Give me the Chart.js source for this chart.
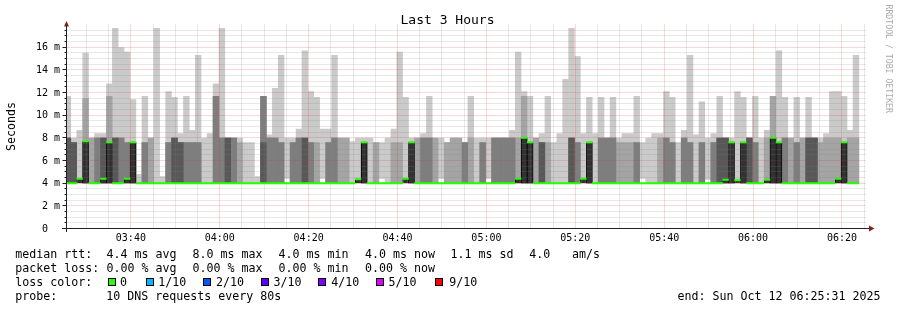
<!DOCTYPE html>
<html>
<head>
<meta charset="utf-8">
<script src="https://cdn.jsdelivr.net/npm/chart.js@4.4.0/dist/chart.umd.min.js"></script>
<style>
html,body{margin:0;padding:0;background:#ffffff;}
canvas{display:block;}
</style>
</head>
<body>
<canvas id="c" width="897" height="310"></canvas>
<script>
// ---------- time axis (minutes after 03:00) ----------
const xMin = 25 + 31 / 60;          // 03:25:31
const xMax = 205 + 31 / 60;         // 06:25:31
const slotStart = 25.15;            // start of the first 80 s probe round
const slotLen = 80 / 60;            // 80 s per round
const xTickValues = [40, 60, 80, 100, 120, 140, 160, 180, 200];
const xTickLabels = ['03:40', '04:00', '04:20', '04:40', '05:00', '05:20', '05:40', '06:00', '06:20'];
const yTickValues = [0, 2, 4, 6, 8, 10, 12, 14, 16];
const yTickLabels = ['0  ', '2 m', '4 m', '6 m', '8 m', '10 m', '12 m', '14 m', '16 m'];

// ---------- sorted pings per round (ms) ----------
const innerLow = 4.0; // pings 2..5 sit on the 4.0 ms floor
const p10 = [11.7,8.0,8.7,15.5,8.0,8.4,8.4,12.8,17.7,16.0,
             15.6,11.4,4.8,11.7,8.0,17.7,4.6,12.1,11.6,8.4,
             11.7,8.7,15.3,8.0,8.4,12.8,17.7,8.0,8.0,8.0,
             7.6,7.6,4.6,11.7,8.3,12.4,15.3,8.0,8.0,8.8,
             15.7,12.1,11.6,8.8,8.8,15.3,8.0,8.0,7.7,8.0,
             8.0,8.0,7.6,7.6,8.0,8.8,15.6,11.6,8.0,8.0,
             8.4,11.7,8.0,8.0,7.6,8.0,8.0,7.6,11.7,8.0,
             8.0,8.0,8.0,8.0,8.0,8.7,15.6,12.1,11.7,8.0,
             8.4,11.7,7.6,8.4,13.2,17.7,15.2,8.4,11.6,8.4,
             11.6,8.0,11.6,8.0,8.4,8.4,11.7,7.6,8.0,8.4,
             8.4,12.1,11.6,7.6,8.7,15.3,8.3,11.2,8.0,8.4,
             11.7,8.0,8.0,12.1,11.6,8.0,11.7,8.0,8.7,11.7,
             15.7,11.6,8.0,11.6,8.0,11.6,8.0,8.0,8.4,12.1,
             12.1,11.7,8.7,15.3];
const p9  = [8.0,7.6,4.0,11.5,8.0,8.0,8.0,11.7,8.0,8.0,
             7.6,7.6,4.0,7.6,8.0,4.0,4.0,7.6,8.0,7.6,
             7.6,7.6,7.6,4.0,4.0,11.7,8.0,8.0,8.0,7.6,
             4.0,4.0,4.0,11.7,8.0,8.0,7.6,4.0,7.6,8.0,
             8.0,7.6,7.6,4.0,7.6,8.0,8.0,8.0,4.0,4.0,
             7.6,4.0,7.6,4.0,4.0,7.6,7.6,4.0,7.6,8.0,
             8.0,8.0,8.0,4.0,7.6,8.0,8.0,7.6,8.0,4.0,
             7.6,4.0,8.0,8.0,8.0,8.0,8.0,11.7,7.6,8.0,
             7.6,7.6,4.0,4.0,4.0,8.0,7.6,4.0,7.6,4.0,
             8.0,8.0,8.0,7.6,7.6,7.6,7.6,4.0,4.0,4.0,
             8.0,8.0,7.6,4.0,8.0,7.6,4.0,7.6,4.0,7.6,
             8.0,8.0,7.6,4.0,7.6,8.0,7.6,4.0,8.0,11.7,
             7.6,8.0,8.0,7.6,8.0,8.0,8.0,7.6,8.0,8.0,
             8.0,7.6,8.0,8.0];
const p8  = [8.0,7.6,4.0,7.7,4.0,8.0,8.0,7.6,8.0,8.0,
             7.6,7.6,4.0,7.6,4.0,4.0,4.0,7.6,8.0,7.6,
             7.6,7.6,7.6,4.0,4.0,11.7,8.0,8.0,8.0,4.0,
             4.0,4.0,4.0,11.7,8.0,8.0,7.6,4.0,7.6,8.0,
             8.0,7.6,4.0,4.0,7.6,8.0,4.0,4.0,4.0,4.0,
             7.6,4.0,4.0,4.0,4.0,4.0,4.0,4.0,7.6,4.0,
             8.0,8.0,4.0,4.0,4.0,4.0,4.0,7.6,4.0,4.0,
             7.6,4.0,8.0,8.0,8.0,8.0,4.0,8.0,7.6,4.0,
             7.6,4.0,4.0,4.0,4.0,8.0,7.6,4.0,7.6,4.0,
             8.0,8.0,8.0,4.0,4.0,4.0,7.6,4.0,4.0,4.0,
             4.0,8.0,7.6,4.0,8.0,7.6,4.0,7.6,4.0,7.6,
             8.0,8.0,7.6,4.0,7.6,8.0,7.6,4.0,4.0,8.0,
             7.6,8.0,4.0,7.6,4.0,8.0,8.0,4.0,4.0,4.0,
             4.0,7.6,4.0,4.0];
const p7  = [8.0,7.6,4.0,7.7,4.0,4.0,8.0,7.6,8.0,4.0,
             4.0,7.6,4.0,4.0,4.0,4.0,4.0,4.0,8.0,7.6,
             4.0,4.0,4.0,4.0,4.0,4.0,4.0,8.0,4.0,4.0,
             4.0,4.0,4.0,7.6,4.0,4.0,4.0,4.0,4.0,4.0,
             8.0,4.0,4.0,4.0,4.0,4.0,4.0,4.0,4.0,4.0,
             7.6,4.0,4.0,4.0,4.0,4.0,4.0,4.0,7.6,4.0,
             4.0,4.0,4.0,4.0,4.0,4.0,4.0,4.0,4.0,4.0,
             4.0,4.0,4.0,4.0,4.0,4.0,4.0,8.0,7.6,4.0,
             7.6,4.0,4.0,4.0,4.0,8.0,4.0,4.0,7.6,4.0,
             4.0,4.0,4.0,4.0,4.0,4.0,4.0,4.0,4.0,4.0,
             4.0,4.0,4.0,4.0,4.0,4.0,4.0,4.0,4.0,4.0,
             8.0,8.0,7.6,4.0,7.6,8.0,4.0,4.0,4.0,8.0,
             7.6,4.0,4.0,4.0,4.0,8.0,8.0,4.0,4.0,4.0,
             4.0,7.6,4.0,4.0];
const median = [4.0,4.0,4.4,7.7,4.0,4.0,4.4,7.6,4.0,4.0,
             4.4,7.6,4.0,4.0,4.0,4.0,4.0,4.0,4.0,4.0,
             4.0,4.0,4.0,4.0,4.0,4.0,4.0,4.0,4.0,4.0,
             4.0,4.0,4.0,4.0,4.0,4.0,4.0,4.0,4.0,4.0,
             4.0,4.0,4.0,4.0,4.0,4.0,4.0,4.0,4.0,4.35,
             7.6,4.0,4.0,4.0,4.0,4.0,4.0,4.4,7.6,4.0,
             4.0,4.0,4.0,4.0,4.0,4.0,4.0,4.0,4.0,4.0,
             4.0,4.0,4.0,4.0,4.0,4.0,4.4,8.0,7.6,4.0,
             4.0,4.0,4.0,4.0,4.0,4.0,4.0,4.4,7.6,4.0,
             4.0,4.0,4.0,4.0,4.0,4.0,4.0,4.0,4.0,4.0,
             4.0,4.0,4.0,4.0,4.0,4.0,4.0,4.0,4.0,4.0,
             4.0,4.3,7.6,4.25,7.6,4.0,4.0,4.0,4.3,8.0,
             7.6,4.0,4.0,4.0,4.0,4.0,4.0,4.0,4.0,4.0,
             4.4,7.6,4.0,4.0];
const p1  = [4.0,4.0,4.0,4.0,4.0,4.0,4.0,4.0,4.0,4.0,
             4.0,4.0,4.0,4.0,4.0,4.0,4.0,4.0,4.0,4.0,
             4.0,4.0,4.0,4.0,4.0,4.0,4.0,4.0,4.0,4.0,
             4.0,4.0,4.0,4.0,4.0,4.0,4.0,4.4,4.0,4.0,
             4.0,4.0,4.0,4.4,4.0,4.0,4.0,4.0,4.0,4.0,
             4.0,4.0,4.0,4.4,4.0,4.0,4.0,4.0,4.0,4.0,
             4.0,4.0,4.0,4.4,4.0,4.0,4.0,4.0,4.0,4.0,
             4.0,4.4,4.0,4.0,4.0,4.0,4.0,4.0,4.0,4.0,
             4.0,4.0,4.0,4.0,4.0,4.0,4.0,4.0,4.0,4.0,
             4.0,4.0,4.0,4.0,4.0,4.0,4.0,4.4,4.0,4.0,
             4.0,4.0,4.0,4.0,4.0,4.0,4.0,4.0,4.3,4.0,
             4.0,4.0,4.0,4.0,4.0,4.0,4.0,4.0,4.0,4.0,
             4.0,4.0,4.0,4.0,4.0,4.0,4.0,4.0,4.0,4.0,
             4.0,4.0,4.0,4.0];

// ---------- legend texts ----------
const titleText = 'Last 3 Hours';
const yTitle = 'Seconds';
const creditText = 'RRDTOOL / TOBI OETIKER';
const rttRow = ['median rtt:', '4.4 ms avg', '8.0 ms max', '4.0 ms min', '4.0 ms now', '1.1 ms sd', '4.0', 'am/s'];
const lossRow = ['packet loss:', '0.00 % avg', '0.00 % max', '0.00 % min', '0.00 % now'];
const lossColors = ['#26ff00', '#00b8ff', '#0059ff', '#5e00ff', '#7e00ff', '#dd00ff', '#ff0000'];
const lossLabels = ['0', '1/10', '2/10', '3/10', '4/10', '5/10', '9/10'];
const probeRow = ['probe:', '10 DNS requests every 80s'];
const endText = 'end: Sun Oct 12 06:25:31 2025';

// ---------- build datasets ----------
const times = p10.map((_, i) => slotStart + (i + 0.5) * slotLen);
function band(lo, hi) {
  return times.map((t, i) => {
    const l = Array.isArray(lo) ? lo[i] : lo;
    return {x: t, y: hi[i] > l ? [l, hi[i]] : null};
  });
}
const swidth = 18 / 204; // one pixel in value units
const medianData = times.map((t, i) => ({x: t, y: [median[i] - swidth, median[i] + swidth]}));

const FONT = '"DejaVu Sans Mono", "Liberation Mono", monospace';
const AXIS = '#202020';
const ARROW = '#801f1f';

function drawGrid(chart) {
  const {ctx, chartArea: a, scales: {x: xs, y: ys}} = chart;
  ctx.save();
  ctx.beginPath();
  ctx.rect(a.left, a.top - 1, a.right - a.left + 1, a.bottom - a.top + 1);
  ctx.clip();
  ctx.lineWidth = 1;
  ctx.setLineDash([1, 1]);
  const hline = (v) => { const y = Math.floor(ys.getPixelForValue(v)) + 0.5; ctx.moveTo(a.left, y); ctx.lineTo(a.right, y); };
  const vline = (v) => { const x = Math.floor(xs.getPixelForValue(v)) + 0.5; ctx.moveTo(x, a.top); ctx.lineTo(x, a.bottom); };
  // minor
  ctx.strokeStyle = 'rgba(130,130,130,0.36)';
  ctx.beginPath();
  for (let k = 1; k < 36; k++) { const v = k * 0.5; if (v % 2 !== 0) hline(v); }
  for (let m = 30; m <= 205; m += 5) { if (m % 20 !== 0) vline(m); }
  ctx.stroke();
  // major
  ctx.strokeStyle = 'rgba(225,50,50,0.38)';
  ctx.beginPath();
  for (let v = 2; v <= 16; v += 2) hline(v);
  for (let m = 40; m <= 200; m += 20) vline(m);
  ctx.stroke();
  ctx.restore();
}

const rrdPlugin = {
  id: 'rrd',
  afterDatasetDraw(chart, args) {
    if (args.index === 1) drawGrid(chart);
  },
  afterDraw(chart) {
    const {ctx, chartArea: a, scales: {x: xs, y: ys}} = chart;
    ctx.save();
    ctx.setLineDash([]);
    // axes
    const ax = Math.floor(a.left) + 0.5;
    const ay = Math.floor(a.bottom) + 0.5;
    ctx.strokeStyle = AXIS;
    ctx.lineWidth = 1;
    ctx.beginPath();
    ctx.moveTo(62, ay); ctx.lineTo(870, ay);
    ctx.moveTo(ax, 232); ctx.lineTo(ax, 26);
    // y ticks
    for (let k = 1; k < 36; k++) {
      const v = k * 0.5;
      const y = Math.floor(ys.getPixelForValue(v)) + 0.5;
      const len = (v % 2 === 0) ? 4 : 2;
      ctx.moveTo(ax - len, y); ctx.lineTo(ax, y);
    }
    ctx.stroke();
    // arrows
    ctx.fillStyle = ARROW;
    ctx.beginPath();
    ctx.moveTo(ax - 2.5, 26.5); ctx.lineTo(ax + 2.5, 26.5); ctx.lineTo(ax, 21); ctx.closePath();
    ctx.fill();
    ctx.beginPath();
    ctx.moveTo(869, ay - 3); ctx.lineTo(869, ay + 3); ctx.lineTo(874.5, ay); ctx.closePath();
    ctx.fill();

    // tick labels
    ctx.fillStyle = '#000';
    ctx.font = '10px ' + FONT;
    ctx.textAlign = 'right';
    ctx.textBaseline = 'middle';
    yTickValues.forEach((v, i) => ctx.fillText(yTickLabels[i], 60, ys.getPixelForValue(v) + 0.5));
    ctx.textAlign = 'center';
    ctx.textBaseline = 'alphabetic';
    xTickValues.forEach((v, i) => ctx.fillText(xTickLabels[i], xs.getPixelForValue(v), 241));

    // title
    ctx.font = '13px ' + FONT;
    ctx.fillText(titleText, 447.5, 24);

    // y title
    ctx.save();
    ctx.font = '11.6px ' + FONT;
    ctx.translate(15.3, (a.top + a.bottom) / 2);
    ctx.rotate(-Math.PI / 2);
    ctx.textAlign = 'center';
    ctx.fillText(yTitle, 0, 0);
    ctx.restore();

    // credit
    ctx.save();
    ctx.font = '8.2px ' + FONT;
    ctx.fillStyle = '#ababab';
    ctx.translate(886, 4.5);
    ctx.rotate(Math.PI / 2);
    ctx.textAlign = 'left';
    ctx.fillText(creditText, 0, 0);
    ctx.restore();

    // legend
    ctx.font = '11.63px ' + FONT;
    ctx.textAlign = 'left';
    ctx.fillStyle = '#000';
    const rttX = [15.2, 106.5, 192.5, 278.5, 364.9, 450.6, 529.2, 571.9];
    rttRow.forEach((s, i) => ctx.fillText(s, rttX[i], 258));
    const lossX = [15.2, 106.5, 192.5, 278.5, 364.9];
    lossRow.forEach((s, i) => ctx.fillText(s, lossX[i], 272));
    ctx.fillText('loss color:', 15.2, 285.8);
    const swX = [108, 146, 203, 261, 318, 376, 435];
    const lblX = [119.9, 158.3, 215.9, 273.5, 331.2, 388.5, 449.2];
    lossColors.forEach((c, i) => {
      ctx.fillStyle = c;
      ctx.fillRect(swX[i], 278, 8, 8);
      ctx.strokeStyle = '#000';
      ctx.lineWidth = 1;
      ctx.strokeRect(swX[i] + 0.5, 278.5, 7, 7);
      ctx.fillStyle = '#000';
      ctx.fillText(lossLabels[i], lblX[i], 285.8);
    });
    ctx.fillText(probeRow[0], 15.2, 299.7);
    ctx.fillText(probeRow[1], 106.3, 299.7);
    ctx.fillText(endText, 677.6, 299.7);
    ctx.restore();
  }
};

new Chart(document.getElementById('c'), {
  type: 'bar',
  data: {
    datasets: [
      {label: 'median', data: medianData, backgroundColor: '#26ff00', order: 1},
      {label: 'pings 5-6', data: band(innerLow, median), backgroundColor: '#323232',
       borderColor: '#000000', borderWidth: {left: 1, right: 1, top: 0, bottom: 0}, order: 2},
      {label: 'pings 4-7', data: band(innerLow, p7), backgroundColor: '#585858', order: 3},
      {label: 'pings 3-8', data: band(innerLow, p8), backgroundColor: '#7e7e7e', order: 4},
      {label: 'pings 2-9', data: band(innerLow, p9), backgroundColor: '#a4a4a4', order: 5},
      {label: 'pings 1-10', data: band(p1, p10), backgroundColor: '#cacaca', order: 6}
    ]
  },
  options: {
    responsive: false,
    animation: false,
    events: [],
    layout: {padding: {left: 66.5, right: 30.5, top: 24.5, bottom: 81.5}},
    plugins: {legend: {display: false}, tooltip: {enabled: false}, title: {display: false}},
    datasets: {bar: {grouped: false, barPercentage: 1.08, categoryPercentage: 1, borderSkipped: false}},
    scales: {
      x: {type: 'linear', min: xMin, max: xMax, offset: false, display: false, ticks: {stepSize: 20}},
      y: {type: 'linear', min: 0, max: 18, display: false}
    }
  },
  plugins: [rrdPlugin]
});
</script>
</body>
</html>
